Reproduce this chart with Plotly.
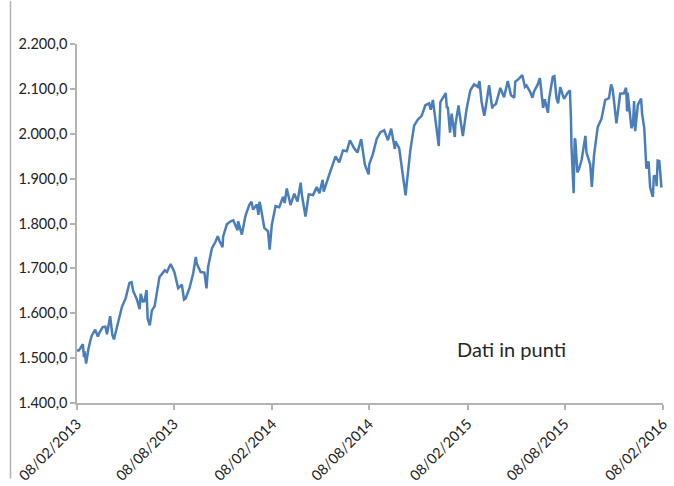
import plotly.graph_objects as go

dates = [
"2013-02-08","2013-02-11","2013-02-14","2013-02-19","2013-02-21","2013-02-22","2013-02-25","2013-02-28",
"2013-03-01","2013-03-05","2013-03-08","2013-03-14","2013-03-15","2013-03-19","2013-03-22","2013-03-28",
"2013-04-02","2013-04-05","2013-04-11","2013-04-15","2013-04-18","2013-04-22","2013-04-26","2013-05-03",
"2013-05-10","2013-05-17","2013-05-21","2013-05-24","2013-05-31","2013-06-05","2013-06-07","2013-06-11",
"2013-06-14","2013-06-18","2013-06-20","2013-06-24","2013-06-28","2013-07-03","2013-07-12","2013-07-19",
"2013-07-22","2013-07-26","2013-08-02","2013-08-09","2013-08-16","2013-08-23","2013-08-27","2013-08-30",
"2013-09-06","2013-09-13","2013-09-18","2013-09-20","2013-09-27","2013-10-04","2013-10-08","2013-10-11",
"2013-10-18","2013-10-25","2013-10-29","2013-11-01","2013-11-07","2013-11-08","2013-11-15","2013-11-22",
"2013-11-27","2013-12-05","2013-12-06","2013-12-13","2013-12-18","2013-12-20","2013-12-27","2013-12-31",
"2014-01-03","2014-01-10","2014-01-13","2014-01-15","2014-01-17","2014-01-24","2014-01-31","2014-02-03",
"2014-02-07","2014-02-14","2014-02-21","2014-02-28","2014-03-03","2014-03-07","2014-03-14","2014-03-21",
"2014-03-27","2014-04-02","2014-04-04","2014-04-11","2014-04-17","2014-04-25","2014-05-02","2014-05-07",
"2014-05-13","2014-05-15","2014-05-23","2014-05-30","2014-06-06","2014-06-13","2014-06-20","2014-06-27",
"2014-07-03","2014-07-11","2014-07-17","2014-07-24","2014-07-31","2014-08-07","2014-08-08","2014-08-15",
"2014-08-22","2014-08-29","2014-09-05","2014-09-12","2014-09-18","2014-09-25","2014-09-26","2014-10-03",
"2014-10-10","2014-10-13","2014-10-15","2014-10-17","2014-10-24","2014-10-31","2014-11-07","2014-11-14",
"2014-11-21","2014-11-28","2014-12-01","2014-12-05","2014-12-12","2014-12-16","2014-12-19","2014-12-29",
"2014-12-31","2015-01-02","2015-01-06","2015-01-09","2015-01-15","2015-01-16","2015-01-22","2015-01-23",
"2015-01-30","2015-02-06","2015-02-13","2015-02-20","2015-02-27","2015-03-02","2015-03-06","2015-03-11",
"2015-03-13","2015-03-20","2015-03-26","2015-03-27","2015-04-02","2015-04-10","2015-04-17","2015-04-24",
"2015-04-30","2015-05-06","2015-05-08","2015-05-15","2015-05-21","2015-05-26","2015-05-29","2015-06-05",
"2015-06-09","2015-06-12","2015-06-19","2015-06-23","2015-06-29","2015-07-02","2015-07-08","2015-07-10",
"2015-07-17","2015-07-20","2015-07-24","2015-07-27","2015-07-31","2015-08-07","2015-08-14","2015-08-18",
"2015-08-20","2015-08-21","2015-08-24","2015-08-25","2015-08-27","2015-08-28","2015-09-01","2015-09-04",
"2015-09-09","2015-09-11","2015-09-16","2015-09-18","2015-09-25","2015-09-28","2015-10-02","2015-10-09",
"2015-10-16","2015-10-23","2015-10-30","2015-11-03","2015-11-06","2015-11-13","2015-11-20","2015-11-27",
"2015-12-01","2015-12-03","2015-12-04","2015-12-11","2015-12-14","2015-12-16","2015-12-18","2015-12-23",
"2015-12-29","2015-12-31","2016-01-04","2016-01-07","2016-01-08","2016-01-12","2016-01-15","2016-01-20",
"2016-01-22","2016-01-26","2016-01-27","2016-01-29","2016-02-01","2016-02-03","2016-02-05",
]

values = [
1517.9,1517.0,1521.4,1530.9,1502.4,1515.6,1487.9,1514.7,
1518.2,1539.8,1551.2,1563.2,1560.7,1548.3,1556.9,1569.2,
1570.3,1553.3,1593.4,1552.4,1541.6,1562.5,1582.2,1614.4,
1633.7,1667.5,1669.2,1649.6,1630.7,1608.9,1643.4,1626.1,
1626.7,1651.8,1588.2,1573.1,1606.3,1615.4,1680.2,1692.1,
1695.5,1691.7,1709.7,1691.4,1655.8,1663.5,1630.5,1633.0,
1655.2,1687.9,1725.5,1710.0,1691.8,1690.5,1655.5,1703.2,
1744.5,1759.8,1771.9,1761.6,1747.2,1770.6,1798.2,1804.8,
1807.2,1785.0,1805.1,1775.3,1810.7,1818.3,1841.4,1848.4,
1831.4,1842.4,1819.2,1848.4,1838.7,1790.3,1782.6,1741.9,
1797.0,1838.6,1836.3,1859.5,1845.7,1878.0,1841.1,1866.5,
1849.0,1890.9,1865.1,1815.7,1864.9,1863.4,1881.1,1867.7,
1897.5,1870.9,1900.5,1923.6,1949.4,1936.2,1962.9,1960.9,
1985.4,1967.6,1958.1,1988.0,1930.7,1909.6,1931.6,1955.1,
1988.4,2003.4,2007.7,1985.5,2011.4,1966.0,1982.9,1967.9,
1906.1,1874.7,1862.5,1886.8,1964.6,2018.1,2031.9,2039.8,
2063.5,2067.6,2053.4,2075.4,2002.3,1972.7,2070.7,2090.6,
2058.9,2058.2,2002.6,2044.8,1992.7,2019.4,2063.2,2051.8,
1995.0,2055.5,2097.0,2110.3,2104.5,2117.4,2071.3,2040.2,
2053.4,2108.1,2056.2,2061.0,2067.0,2102.1,2081.2,2117.7,
2085.5,2080.2,2116.1,2122.7,2130.8,2104.2,2107.4,2092.8,
2080.2,2094.1,2110.0,2124.2,2057.6,2076.8,2046.7,2076.6,
2126.6,2128.3,2079.7,2067.6,2103.8,2077.6,2091.5,2096.9,
2035.7,1970.9,1893.2,1867.6,1987.7,1988.9,1913.9,1921.2,
1942.0,1961.1,1995.3,1958.0,1931.3,1881.8,1951.4,2014.9,
2033.1,2075.2,2079.4,2109.8,2099.2,2023.0,2089.2,2090.1,
2102.6,2049.6,2091.7,2012.4,2021.9,2073.1,2005.6,2064.3,
2078.4,2043.9,2012.7,1943.1,1922.0,1938.7,1880.3,1859.3,
1906.9,1903.6,1883.0,1940.2,1939.4,1912.5,1880.1,
]

tick_dates = ["2013-02-08","2013-08-08","2014-02-08","2014-08-08","2015-02-08","2015-08-08","2016-02-08"]
tick_labels = ["08/02/2013","08/08/2013","08/02/2014","08/08/2014","08/02/2015","08/08/2015","08/02/2016"]
y_ticks = [1400,1500,1600,1700,1800,1900,2000,2100,2200]

FONT = "Lato, 'Open Sans', sans-serif"

fig = go.Figure()
fig.add_trace(go.Scatter(
    x=dates, y=values, mode="lines",
    line=dict(color="#4a7ebb", width=2.5),
    showlegend=False, hoverinfo="x+y",
))

fig.update_layout(
    width=674, height=486,
    margin=dict(l=77, r=11, t=44, b=83),
    paper_bgcolor="white", plot_bgcolor="white",
    separators=",.",
    font=dict(family=FONT, size=14, color="#222222"),
    xaxis=dict(
        type="date", automargin=False,
        range=["2013-02-08","2016-02-08"],
        tickmode="array", tickvals=tick_dates, ticktext=tick_labels,
        tickangle=-45,
        showgrid=False, zeroline=False,
        showline=True, linecolor="#b3b3b3", linewidth=1.5,
        ticks="outside", ticklen=5, tickcolor="#b3b3b3", tickwidth=1.5,
        tickfont=dict(family=FONT, size=14.5, color="#222222"),
    ),
    yaxis=dict(
        range=[1400, 2200], automargin=False,
        tickmode="array", tickvals=y_ticks,
        tickformat=",.1f",
        showgrid=False, zeroline=False,
        showline=True, linecolor="#b3b3b3", linewidth=1.5,
        ticks="outside", ticklen=5, tickcolor="#b3b3b3", tickwidth=1.5,
        tickfont=dict(family=FONT, size=14.5, color="#222222"),
    ),
    annotations=[dict(
        text="Dati in punti", xref="paper", yref="paper",
        x=0.741, y=0.151, xanchor="center", yanchor="middle",
        showarrow=False, font=dict(family=FONT, size=20, color="#262626"),
    )],
    shapes=[dict(
        type="line", xref="paper", yref="paper",
        x0=-0.1135, x1=-0.1135, y0=1.12, y1=-0.21,
        line=dict(color="#b3b3b3", width=1.5),
    )],
)

fig.write_html(
    "out.html",
    config={"displayModeBar": False},
    post_script="document.body.style.margin='0';document.body.style.overflow='hidden';",
)
